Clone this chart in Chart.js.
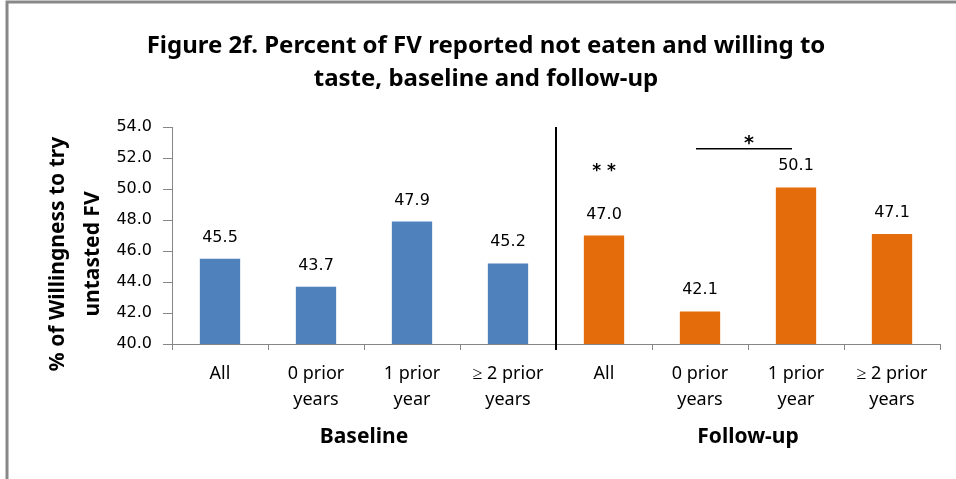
<!DOCTYPE html>
<html>
<head>
<meta charset="utf-8">
<script src="https://cdn.jsdelivr.net/npm/chart.js@4.4.1/dist/chart.umd.min.js"></script>
<style>
  body { margin: 0; background: #fff; }
  #wrap { width: 956px; height: 479px; }
</style>
</head>
<body>
<div id="wrap"><canvas id="chartFV" width="956" height="479"></canvas></div>
<script>
/* data */
const categories = [
  'All', ['0 prior', 'years'], ['1 prior', 'year'], ['\u2265 2 prior', 'years'],
  'All', ['0 prior', 'years'], ['1 prior', 'year'], ['\u2265 2 prior', 'years']
];
const willingness = [45.5, 43.7, 47.9, 45.2, 47.0, 42.1, 50.1, 47.1];
const barColors = ['#4F81BD', '#4F81BD', '#4F81BD', '#4F81BD',
                   '#E46C0A', '#E46C0A', '#E46C0A', '#E46C0A'];
const groupNames = ['Baseline', 'Follow-up'];
const groupStart = [0, 4];
const groupEnd = [3, 7];
const starMarks = ['', '', '', '', '* *', '', '', ''];
const bracketFrom = 5;
const bracketTo = 6;
const bracketValue = 52.6;
const bracketMark = '*';
const yTicksMin = 40;
const yTicksMax = 54;
const yTicksStep = 2;

const extras = {
  id: 'extras',
  beforeDraw(chart) {
    const ctx = chart.ctx;
    ctx.save();
    ctx.fillStyle = '#fff';
    ctx.fillRect(0, 0, chart.width, chart.height);
    // frame around the figure
    ctx.strokeStyle = '#888';
    ctx.lineWidth = 3;
    ctx.beginPath();
    ctx.moveTo(7, chart.height);
    ctx.lineTo(7, 2);
    ctx.lineTo(chart.width, 2);
    ctx.stroke();
    ctx.restore();
  },
  afterDraw(chart) {
    const ctx = chart.ctx;
    const x = chart.scales.x;
    const y = chart.scales.y;
    const area = chart.chartArea;
    const bars = chart.getDatasetMeta(0).data;
    ctx.save();
    ctx.fillStyle = '#000';
    ctx.textAlign = 'center';
    ctx.textBaseline = 'alphabetic';

    // value labels and significance stars
    bars.forEach((bar, i) => {
      ctx.font = '16px "DejaVu Sans"';
      ctx.fillText(willingness[i].toFixed(1), bar.x, bar.y - 17);
      if (starMarks[i]) {
        ctx.font = 'bold 17px "DejaVu Sans"';
        ctx.fillText(starMarks[i], bar.x, bar.y - 60);
      }
    });

    // separator between baseline and follow-up
    const sepX = (x.getPixelForValue(groupEnd[0]) + x.getPixelForValue(groupStart[1])) / 2;
    ctx.strokeStyle = '#000';
    ctx.lineWidth = 2;
    ctx.beginPath();
    ctx.moveTo(sepX, area.top);
    ctx.lineTo(sepX, area.bottom + 6);
    ctx.stroke();

    // bracket with star
    const bx1 = x.getPixelForValue(bracketFrom) - 4;
    const bx2 = x.getPixelForValue(bracketTo) - 4;
    const by = y.getPixelForValue(bracketValue);
    ctx.lineWidth = 1.5;
    ctx.beginPath();
    ctx.moveTo(bx1, by);
    ctx.lineTo(bx2, by);
    ctx.stroke();
    ctx.font = 'bold 19px "DejaVu Sans"';
    ctx.fillText(bracketMark, (bx1 + bx2) / 2 + 5, by);

    // group labels
    ctx.font = 'bold 21px "Noto Sans"';
    ctx.textBaseline = 'middle';
    groupNames.forEach((name, g) => {
      const cx = (x.getPixelForValue(groupStart[g]) + x.getPixelForValue(groupEnd[g])) / 2;
      ctx.fillText(name, cx, 437);
    });

    // y axis title, two lines
    ctx.font = 'bold 21px "Noto Sans"';
    ctx.translate(0, 254);
    ctx.rotate(-Math.PI / 2);
    ctx.fillText('% of Willingness to try', 0, 58);
    ctx.fillText('untasted FV', 0, 93);
    ctx.restore();
  }
};

const data = {
  labels: categories,
  datasets: [{
    data: willingness,
    backgroundColor: barColors,
    barPercentage: 0.42,
    categoryPercentage: 1.0
  }]
};

const config = {
  type: 'bar',
  data: data,
  options: {
    responsive: false,
    animation: false,
    layout: { padding: { left: 32, right: 16, top: 0, bottom: 0 } },
    plugins: {
      legend: { display: false },
      tooltip: { enabled: false },
      title: {
        display: true,
        text: ['Figure 2f. Percent of FV reported not eaten and willing to',
               'taste, baseline and follow-up'],
        color: '#000',
        font: { family: 'Noto Sans', size: 24, weight: 'bold', lineHeight: 1.375 },
        padding: { top: 30, bottom: 31 }
      }
    },
    scales: {
      x: {
        grid: { drawOnChartArea: false, offset: true, tickLength: 6, color: '#868686' },
        border: { color: '#868686' },
        ticks: {
          color: '#000',
          maxRotation: 0,
          autoSkip: false,
          padding: 11,
          font: { family: 'Noto Sans', size: 18, lineHeight: 1.444 }
        },
        afterFit(scale) { scale.height = 135; }
      },
      y: {
        min: yTicksMin,
        max: yTicksMax,
        grid: { drawOnChartArea: false, tickLength: 9, color: '#868686' },
        border: { color: '#868686' },
        ticks: {
          stepSize: yTicksStep,
          color: '#000',
          padding: 11,
          font: { family: 'DejaVu Sans', size: 16 },
          callback: v => v.toFixed(1)
        },
        afterFit(scale) { scale.width = 140; }
      }
    }
  },
  plugins: [extras]
};

const chartFV = new Chart(document.getElementById('chartFV').getContext('2d'), config);
</script>
</body>
</html>
